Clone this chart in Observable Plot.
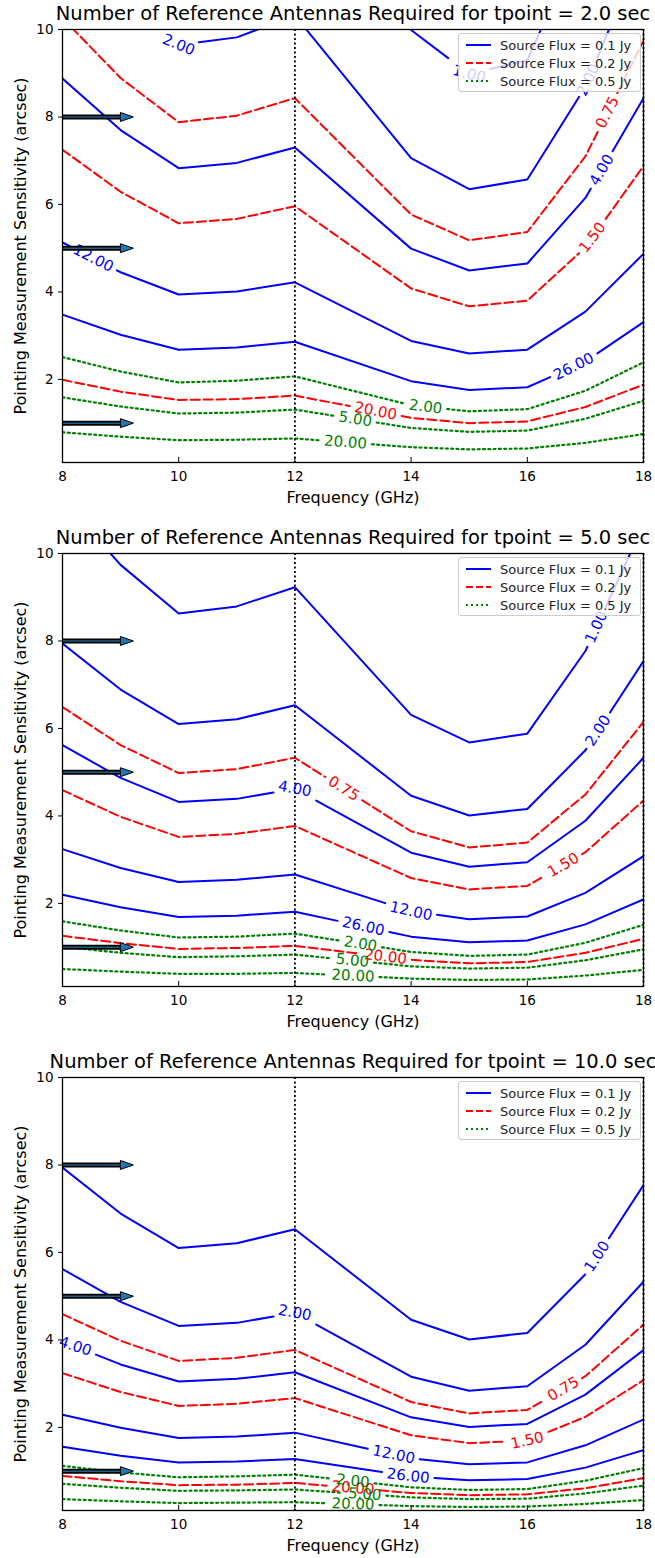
<!DOCTYPE html>
<html><head><meta charset="utf-8">
<script src="https://cdn.jsdelivr.net/npm/d3@7"></script>
<script src="https://cdn.jsdelivr.net/npm/@observablehq/plot@0.6"></script>
<style>
body{margin:0;background:#fff;font-family:"DejaVu Sans",sans-serif;}
.panel{position:relative;width:655px;height:524px;overflow:hidden;}
.legend{position:absolute;left:458px;top:33px;width:183px;height:59px;background:rgba(255,255,255,0.8);border:1px solid #cccccc;border-radius:3px;box-sizing:border-box;}
.legend svg{display:block;}
</style></head><body><div id="root"></div>
<script>
// ---------- data ----------
const freqs = [8, 9, 10, 11, 12, 14, 15, 16, 17, 18];
const tpointLabels = ["2.0", "5.0", "10.0"];
const fluxLabels = ["0.1", "0.2", "0.5"];
const levelLabels01 = ["1.00", "2.00", "4.00", "12.00", "26.00"];
const levelLabels02 = ["0.75", "1.50", "20.00"];
const levelLabels05 = ["2.00", "5.00", "20.00"];
const xTicks = [8, 10, 12, 14, 16, 18];
const yTicks = [2, 4, 6, 8, 10];
const bandEdges = [12, 18];
const arrowLevels = [8, 5, 1];
const arrowSpan = [8, 9.22];

// tpoint = 2.0 s
const t2_flux01 = [
  [17.77, 15.40, 13.65, 13.90, 14.60, 9.99, 8.98, 9.30, 12.29, 16.86],
  [12.56, 10.89, 9.65, 9.82, 10.32, 7.06, 6.35, 6.57, 8.69, 11.92],
  [8.88, 7.70, 6.83, 6.95, 7.30, 4.99, 4.49, 4.65, 6.15, 8.43],
  [5.13, 4.45, 3.94, 4.01, 4.22, 2.88, 2.59, 2.68, 3.55, 4.87],
  [3.48, 3.02, 2.68, 2.73, 2.86, 1.96, 1.76, 1.82, 2.41, 3.31]];
const t2_flux02 = [
  [10.26, 8.89, 7.88, 8.03, 8.43, 5.77, 5.18, 5.37, 7.10, 9.74],
  [7.25, 6.29, 5.57, 5.67, 5.96, 4.08, 3.67, 3.80, 5.02, 6.88],
  [1.99, 1.72, 1.53, 1.55, 1.63, 1.12, 1.00, 1.04, 1.37, 1.88]];
const t2_flux05 = [
  [2.51, 2.18, 1.93, 1.97, 2.07, 1.41, 1.27, 1.32, 1.74, 2.39],
  [1.59, 1.38, 1.22, 1.24, 1.31, 0.89, 0.80, 0.83, 1.10, 1.51],
  [0.79, 0.69, 0.61, 0.62, 0.65, 0.45, 0.40, 0.42, 0.55, 0.75]];
const t2_labels = [[0,1,10.0],[0,0,15.0],[0,1,17.05],[0,2,17.28],[1,0,17.38],[1,1,17.12],[0,3,8.53],[0,4,16.8],[1,2,13.39],[2,0,14.25],[2,1,13.04],[2,2,12.87]];

// tpoint = 5.0 s
const t5_flux01 = [
  [11.23, 9.74, 8.63, 8.79, 9.23, 6.31, 5.68, 5.88, 7.77, 10.66],
  [7.94, 6.89, 6.10, 6.21, 6.53, 4.46, 4.01, 4.16, 5.50, 7.54],
  [5.62, 4.87, 4.32, 4.39, 4.62, 3.16, 2.84, 2.94, 3.89, 5.33],
  [3.24, 2.81, 2.49, 2.54, 2.66, 1.82, 1.64, 1.70, 2.24, 3.08],
  [2.20, 1.91, 1.69, 1.72, 1.81, 1.24, 1.11, 1.15, 1.52, 2.09]];
const t5_flux02 = [
  [6.49, 5.62, 4.98, 5.07, 5.33, 3.65, 3.28, 3.39, 4.49, 6.15],
  [4.59, 3.98, 3.52, 3.59, 3.77, 2.58, 2.32, 2.40, 3.17, 4.35],
  [1.26, 1.09, 0.96, 0.98, 1.03, 0.71, 0.63, 0.66, 0.87, 1.19]];
const t5_flux05 = [
  [1.59, 1.38, 1.22, 1.24, 1.31, 0.89, 0.80, 0.83, 1.10, 1.51],
  [1.01, 0.87, 0.77, 0.79, 0.83, 0.56, 0.51, 0.53, 0.70, 0.95],
  [0.50, 0.44, 0.39, 0.39, 0.41, 0.28, 0.25, 0.26, 0.35, 0.48]];
const t5_labels = [[0,0,17.19],[0,1,17.22],[1,1,16.62],[0,2,12.0],[1,0,12.84],[0,3,14.0],[0,4,13.18],[2,0,13.13],[1,2,13.56],[2,1,12.99],[2,2,13.0]];

// tpoint = 10.0 s
const t10_flux01 = [
  [7.94, 6.89, 6.10, 6.21, 6.53, 4.46, 4.01, 4.16, 5.50, 7.54],
  [5.62, 4.87, 4.32, 4.39, 4.62, 3.16, 2.84, 2.94, 3.89, 5.33],
  [3.97, 3.44, 3.05, 3.11, 3.26, 2.23, 2.01, 2.08, 2.75, 3.77],
  [2.29, 1.99, 1.76, 1.79, 1.88, 1.29, 1.16, 1.20, 1.59, 2.18],
  [1.56, 1.35, 1.20, 1.22, 1.28, 0.88, 0.79, 0.82, 1.08, 1.48]];
const t10_flux02 = [
  [4.59, 3.98, 3.52, 3.59, 3.77, 2.58, 2.32, 2.40, 3.17, 4.35],
  [3.24, 2.81, 2.49, 2.54, 2.67, 1.82, 1.64, 1.70, 2.24, 3.08],
  [0.89, 0.77, 0.68, 0.69, 0.73, 0.50, 0.45, 0.47, 0.61, 0.84]];
const t10_flux05 = [
  [1.12, 0.97, 0.86, 0.88, 0.92, 0.63, 0.57, 0.59, 0.78, 1.07],
  [0.71, 0.62, 0.55, 0.56, 0.58, 0.40, 0.36, 0.37, 0.49, 0.67],
  [0.36, 0.31, 0.27, 0.28, 0.29, 0.20, 0.18, 0.19, 0.25, 0.34]];
const t10_labels = [[0,0,17.2],[1,0,16.62],[1,1,16.0],[0,1,12.0],[0,2,8.22],[0,3,13.7],[0,4,13.95],[2,0,13.0],[1,2,13.0],[2,1,13.2],[2,2,13.0]];

// ---------- assembly ----------
const panels = [
  {t: tpointLabels[0], series: [t2_flux01, t2_flux02, t2_flux05], labels: t2_labels},
  {t: tpointLabels[1], series: [t5_flux01, t5_flux02, t5_flux05], labels: t5_labels},
  {t: tpointLabels[2], series: [t10_flux01, t10_flux02, t10_flux05], labels: t10_labels}
];
const levelNames = [levelLabels01, levelLabels02, levelLabels05];
const colors = ["#0000ff", "#ff0000", "#008000"];
const dashes = [null, "9,4", "2,3.3"];

const W = 655, H = 524, mt = 29, mb = 62, ml = 62, mr = 12;
const yDomain = [0.1, 10], xDomain = [8, 18];
const kx = (W - ml - mr) / (xDomain[1] - xDomain[0]);
const ky = (H - mt - mb) / (yDomain[1] - yDomain[0]);
const fs = 15;

function valAt(vals, f) {
  f = Math.max(freqs[0], Math.min(freqs[freqs.length - 1], f));
  for (let i = 0; i < freqs.length - 1; i++) {
    if (f >= freqs[i] && f <= freqs[i + 1]) {
      const t = (f - freqs[i]) / (freqs[i + 1] - freqs[i]);
      return vals[i] + t * (vals[i + 1] - vals[i]);
    }
  }
  return vals[vals.length - 1];
}
function textW(s) { return [...s].reduce((a, c) => a + (c === "." ? 0.318 : 0.636) * fs, 0); }
function labelGeom(vals, fc, text) {
  const half = (textW(text) + 10) / 2;
  let dxF = half / kx, ang = 0;
  for (let k = 0; k < 4; k++) {
    const fa = fc - dxF, fb = fc + dxF;
    const dxp = (fb - fa) * kx, dyp = -(valAt(vals, fb) - valAt(vals, fa)) * ky;
    ang = Math.atan2(dyp, dxp);
    dxF = half * Math.abs(Math.cos(ang)) / kx;
  }
  return {angle: ang * 180 / Math.PI, gap: [fc - dxF, fc + dxF]};
}
function splitLine(vals, gaps) {
  const all = freqs.map((f, i) => ({f, v: vals[i]}));
  for (const [a, b] of gaps) { all.push({f: a, v: valAt(vals, a)}); all.push({f: b, v: valAt(vals, b)}); }
  all.sort((p, q) => p.f - q.f);
  const segs = []; let cur = [];
  for (const p of all) {
    const inGap = gaps.some(([a, b]) => p.f > a + 1e-9 && p.f < b - 1e-9);
    if (inGap) { if (cur.length) { segs.push(cur); cur = []; } continue; }
    cur.push(p);
    if (gaps.some(([a]) => Math.abs(p.f - a) < 1e-9)) { segs.push(cur); cur = []; }
  }
  if (cur.length) segs.push(cur);
  return segs.filter(s => s.length > 1);
}

const arrowHead = {
  draw(ctx) { ctx.moveTo(0, 0); ctx.lineTo(-13, -4.5); ctx.lineTo(-13, 4.5); ctx.closePath(); }
};

const root = document.getElementById("root");
panels.forEach((P) => {
  const lineRows = [[], [], []];
  const labelRows = [[], [], []];
  P.series.forEach((lvls, fi) => lvls.forEach((vals, li) => {
    const gaps = [];
    P.labels.filter(l => l[0] === fi && l[1] === li).forEach(([, , fc]) => {
      const text = levelNames[fi][li];
      const g = labelGeom(vals, fc, text);
      labelRows[fi].push({f: fc, v: valAt(vals, fc), text, angle: g.angle});
      gaps.push(g.gap);
    });
    splitLine(vals, gaps).forEach((seg, si) => seg.forEach(p =>
      lineRows[fi].push({f: p.f, v: p.v, key: `${li}-${si}`})));
  }));

  const plotH = H - mt - mb;
  const shaftEnd = arrowSpan[1] - 13 / kx;
  const marks = [
    ...[0, 1, 2].map(fi => Plot.line(lineRows[fi], {
      x: "f", y: "v", z: "key", stroke: colors[fi], strokeWidth: fi === 2 ? 2.2 : 2,
      strokeDasharray: dashes[fi], clip: true})),
    Plot.ruleX(bandEdges, {stroke: "black", strokeWidth: 1.8, strokeDasharray: "2,2.5"}),
    ...[0, 1, 2].map(fi => Plot.text(labelRows[fi], {
      x: "f", y: "v", text: "text", rotate: "angle", fill: colors[fi], fontSize: fs,
      textAnchor: "middle", lineAnchor: "middle"})),
    Plot.link(arrowLevels, {x1: () => arrowSpan[0], x2: () => shaftEnd, y1: d => d, y2: d => d, stroke: "black", strokeWidth: 5}),
    Plot.link(arrowLevels, {x1: () => arrowSpan[0], x2: () => shaftEnd, y1: d => d, y2: d => d, stroke: "#1f5f86", strokeWidth: 1.5}),
    Plot.dot(arrowLevels, {x: () => arrowSpan[1], y: d => d, symbol: arrowHead, r: 5, fill: "#1f77b4", stroke: "black", strokeWidth: 1}),
    Plot.ruleX(xTicks, {stroke: "black", strokeWidth: 1, insetTop: plotH - 5}),
    Plot.frame({stroke: "black", strokeWidth: 1.3}),
    Plot.axisX(xTicks, {tickSize: 0, tickPadding: 9, fontSize: 13.5, label: null}),
    Plot.axisY(yTicks, {tickSize: 4, tickPadding: 5, fontSize: 13.5, label: null}),
    Plot.text(["Frequency (GHz)"], {text: d => d, frameAnchor: "bottom", dy: 35, fontSize: 16, textAnchor: "middle", lineAnchor: "middle"}),
    Plot.text(["Pointing Measurement Sensitivity (arcsec)"], {text: d => d, frameAnchor: "left", dx: -42, rotate: -90, fontSize: 16, textAnchor: "middle", lineAnchor: "middle"}),
    Plot.text([`Number of Reference Antennas Required for tpoint = ${P.t} sec`], {text: d => d, frameAnchor: "top", dy: -16, fontSize: 19.5, textAnchor: "middle", lineAnchor: "middle"})
  ];
  const chart = Plot.plot({
    width: W, height: H, marginTop: mt, marginBottom: mb, marginLeft: ml, marginRight: mr,
    x: {domain: xDomain}, y: {domain: yDomain},
    style: {fontFamily: "DejaVu Sans", fontSize: "13px", color: "#000", background: "white", overflow: "visible"},
    marks
  });
  const panel = document.createElement("div");
  panel.className = "panel";
  panel.appendChild(chart);
  root.appendChild(panel);

  const leg = d3.select(panel).append("div").attr("class", "legend");
  const svg = leg.append("svg").attr("width", 181).attr("height", 57);
  fluxLabels.forEach((fl, i) => {
    const y = 11 + i * 18;
    svg.append("line").attr("x1", 7).attr("x2", 32).attr("y1", y).attr("y2", y)
      .attr("stroke", colors[i]).attr("stroke-width", 2).attr("stroke-dasharray", dashes[i] ? (i === 1 ? "7,3" : "2,3") : null);
    svg.append("text").attr("x", 41).attr("y", y).attr("dy", "0.35em")
      .attr("font-size", 13).attr("font-family", "DejaVu Sans").attr("fill", "#222")
      .text(`Source Flux = ${fl} Jy`);
  });
});
</script></body></html>
